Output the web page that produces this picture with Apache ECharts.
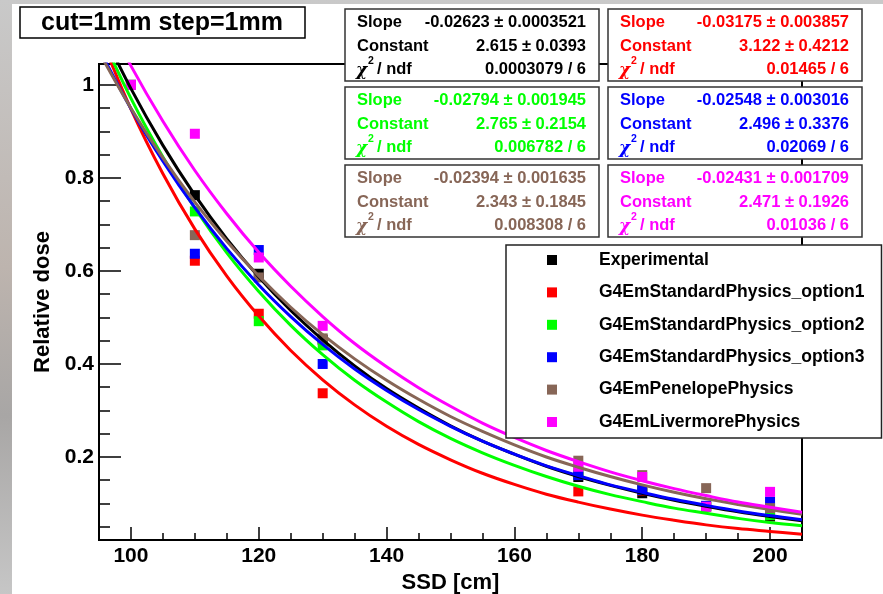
<!DOCTYPE html>
<html>
<head>
<meta charset="utf-8">
<script src="https://cdn.jsdelivr.net/npm/echarts@6/dist/echarts.min.js"></script>
<style>
  html, body { margin: 0; padding: 0; }
  body {
    width: 883px; height: 594px; overflow: hidden; position: relative;
    background: linear-gradient(180deg, #c9c9c9 0%, #bdb4ae 45%, #a8a6a5 70%, #c6c6c6 100%);
  }
  #pad { position: absolute; left: 12px; top: 4px; right: 0; bottom: 0; background: #fff; }
  #chart { position: absolute; left: 0; top: 0; width: 883px; height: 594px; }
</style>
</head>
<body>
<div id="pad"></div>
<div id="chart"></div>
<script>
// measured points (SSD in cm, relative dose)
const ssd = [100, 110, 120, 130, 170, 180, 190, 200]
const doseExperimental = [1.0, 0.763, 0.594, 0.452, 0.157, 0.122, 0.094, 0.072]
const doseOption1 = [1.0, 0.622, 0.508, 0.337, 0.126, 0.128, 0.093, 0.075]
const doseOption2 = [1.0, 0.728, 0.492, 0.440, 0.170, 0.129, 0.093, 0.075]
const doseOption3 = [1.0, 0.637, 0.645, 0.400, 0.161, 0.129, 0.095, 0.104]
const dosePenelope = [1.0, 0.677, 0.586, 0.455, 0.192, 0.161, 0.133, 0.090]
const doseLivermore = [1.0, 0.895, 0.629, 0.482, 0.179, 0.157, 0.093, 0.125]

// expo fit curves, read at every 5 cm
const fitSsd = [95, 100, 105, 110, 115, 120, 125, 130, 135, 140, 145, 150,
  155, 160, 165, 170, 175, 180, 185, 190, 195, 200, 205]
const fitExperimental = [1.131, 0.992, 0.870, 0.763, 0.669, 0.587, 0.515, 0.452, 0.396, 0.347, 0.305, 0.267,
  0.234, 0.206, 0.180, 0.158, 0.139, 0.122, 0.107, 0.094, 0.082, 0.072, 0.063]
const fitOption1 = [1.112, 0.948, 0.809, 0.690, 0.589, 0.503, 0.429, 0.366, 0.312, 0.266, 0.227, 0.194,
  0.165, 0.141, 0.120, 0.103, 0.088, 0.075, 0.064, 0.054, 0.046, 0.040, 0.034]
const fitOption2 = [1.117, 0.971, 0.845, 0.735, 0.639, 0.556, 0.483, 0.420, 0.365, 0.318, 0.276, 0.240,
  0.209, 0.182, 0.158, 0.137, 0.119, 0.104, 0.090, 0.079, 0.068, 0.059, 0.052]
const fitOption3 = [1.078, 0.949, 0.836, 0.736, 0.648, 0.570, 0.502, 0.442, 0.389, 0.343, 0.302, 0.266,
  0.234, 0.206, 0.181, 0.160, 0.140, 0.124, 0.109, 0.096, 0.084, 0.074, 0.065]
const fitPenelope = [1.071, 0.950, 0.843, 0.748, 0.664, 0.589, 0.522, 0.463, 0.411, 0.365, 0.324, 0.287,
  0.255, 0.226, 0.200, 0.178, 0.158, 0.140, 0.124, 0.110, 0.098, 0.087, 0.077]
const fitLivermore = [1.175, 1.041, 0.922, 0.816, 0.723, 0.640, 0.567, 0.502, 0.444, 0.394, 0.349, 0.309,
  0.273, 0.242, 0.214, 0.190, 0.168, 0.149, 0.132, 0.117, 0.103, 0.092, 0.081]

const seriesNames = ["Experimental", "G4EmStandardPhysics_option1", "G4EmStandardPhysics_option2",
  "G4EmStandardPhysics_option3", "G4EmPenelopePhysics", "G4EmLivermorePhysics"]
const seriesColors = ["#000000", "#ff0000", "#00ff00", "#0000ff", "#876657", "#ff00ff"]
const doses = [doseExperimental, doseOption1, doseOption2, doseOption3, dosePenelope, doseLivermore]
const fits = [fitExperimental, fitOption1, fitOption2, fitOption3, fitPenelope, fitLivermore]

// fit parameter boxes
const slopeText = ["-0.02623 ± 0.0003521", "-0.03175 ± 0.003857", "-0.02794 ± 0.001945",
  "-0.02548 ± 0.003016", "-0.02394 ± 0.001635", "-0.02431 ± 0.001709"]
const constantText = ["2.615 ± 0.0393", "3.122 ± 0.4212", "2.765 ± 0.2154",
  "2.496 ± 0.3376", "2.343 ± 0.1845", "2.471 ± 0.1926"]
const chi2Text = ["0.0003079 / 6", "0.01465 / 6", "0.006782 / 6",
  "0.02069 / 6", "0.008308 / 6", "0.01036 / 6"]

const FONT = '"Liberation Sans", Arial, sans-serif'
const chart = echarts.init(document.getElementById("chart"), null, { renderer: "canvas" })

const series = []
seriesNames.forEach((name, i) => {
  series.push({
    name: name,
    type: "scatter",
    symbol: "rect",
    symbolSize: 10,
    itemStyle: { color: seriesColors[i], opacity: 1 },
    data: ssd.map((x, k) => [x, doses[i][k]]),
    silent: true
  })
  series.push({
    name: name + " fit",
    type: "line",
    smooth: 0.35,
    showSymbol: false,
    clip: true,
    lineStyle: { color: seriesColors[i], width: 3 },
    data: fitSsd.map((x, k) => [x, fits[i][k]]),
    silent: true
  })
})

function txt(x, y, text, color, extra) {
  return {
    type: "text", x: x, y: y, z: 20,
    style: Object.assign({
      text: text, fill: color, fontFamily: FONT, fontWeight: "bold", fontSize: 16.5,
      align: "left", textAlign: "left", verticalAlign: "middle", textVerticalAlign: "middle"
    }, extra || {})
  }
}

const graphics = []
// title box
graphics.push({ type: "rect", z: 20, shape: { x: 20, y: 7, width: 285, height: 31 },
  style: { fill: "#fff", stroke: "#000", lineWidth: 1.5 } })
graphics.push(txt(162, 23, "cut=1mm step=1mm", "#000",
  { fontSize: 25, align: "center", textAlign: "center" }))

// stats boxes
const boxLeft = [345, 608]
const boxTop = [9, 87, 165]
seriesNames.forEach((name, i) => {
  const left = boxLeft[i % 2]
  const top = boxTop[Math.floor(i / 2)]
  const right = left + 254
  const c = seriesColors[i]
  graphics.push({ type: "rect", z: 20, shape: { x: left, y: top, width: 254, height: 72 },
    style: { fill: "#fff", stroke: "#333", lineWidth: 1.5 } })
  graphics.push(txt(left + 12, top + 13, "Slope", c))
  graphics.push(txt(left + 12, top + 37, "Constant", c))
  graphics.push(txt(left + 11, top + 62, "χ", c,
    { fontFamily: '"DejaVu Serif", serif', fontStyle: "italic", fontWeight: "bold", fontSize: 17 }))
  graphics.push(txt(left + 23, top + 52, "2", c, { fontSize: 10.5 }))
  graphics.push(txt(left + 32, top + 60, "/ ndf", c))
  graphics.push(txt(right - 13, top + 13, slopeText[i], c, { align: "right", textAlign: "right" }))
  graphics.push(txt(right - 13, top + 37, constantText[i], c, { align: "right", textAlign: "right" }))
  graphics.push(txt(right - 13, top + 60, chi2Text[i], c, { align: "right", textAlign: "right" }))
})

const tickFmt = (step) => (v) => {
  const r = Math.round(v / step) * step
  return Math.abs(v - r) < 1e-6 ? String(+r.toFixed(1)) : ""
}

chart.setOption({
  animation: false,
  grid: {
    left: 99, right: 81, top: 64, bottom: 54,
    show: true, borderColor: "#000", borderWidth: 2, backgroundColor: "#fff",
    outerBoundsMode: "none"
  },
  legend: {
    data: seriesNames,
    orient: "vertical",
    left: 506, top: 245,
    padding: [5, 17, 6, 41],
    itemGap: 12.4,
    itemWidth: 10, itemHeight: 10,
    icon: "rect",
    selectedMode: false,
    backgroundColor: "#fff",
    borderColor: "#222",
    borderWidth: 1.5,
    z: 10,
    textStyle: {
      color: "#000", fontFamily: FONT, fontWeight: "bold", fontSize: 17.5,
      lineHeight: 20, padding: [0, 0, 0, 37]
    }
  },
  xAxis: {
    type: "value",
    min: 95, max: 205,
    name: "SSD [cm]",
    nameLocation: "middle",
    nameGap: 27,
    nameTextStyle: { color: "#000", fontFamily: FONT, fontWeight: "bold", fontSize: 22 },
    axisLine: { show: true, lineStyle: { color: "#000", width: 2 } },
    axisTick: { show: true, inside: true, length: 13, lineStyle: { color: "#000", width: 1.5 } },
    minorTick: { show: true, splitNumber: 4, length: 7, lineStyle: { color: "#000", width: 1.5 } },
    splitLine: { show: false },
    axisLabel: {
      color: "#000", fontFamily: FONT, fontWeight: "bold", fontSize: 21, margin: 6,
      formatter: tickFmt(20)
    }
  },
  yAxis: {
    type: "value",
    min: 0.0215, max: 1.045,
    name: "Relative dose",
    nameLocation: "middle",
    nameGap: 45,
    nameTextStyle: { color: "#000", fontFamily: FONT, fontWeight: "bold", fontSize: 22 },
    axisLine: { show: true, lineStyle: { color: "#000", width: 2 } },
    axisTick: { show: true, inside: true, length: 22, lineStyle: { color: "#000", width: 1.5 } },
    minorTick: { show: true, splitNumber: 4, length: 11, lineStyle: { color: "#000", width: 1.5 } },
    splitLine: { show: false },
    axisLabel: {
      color: "#000", fontFamily: FONT, fontWeight: "bold", fontSize: 21, margin: 5,
      formatter: tickFmt(0.2)
    }
  },
  graphic: graphics,
  series: series
})
</script>
</body>
</html>
